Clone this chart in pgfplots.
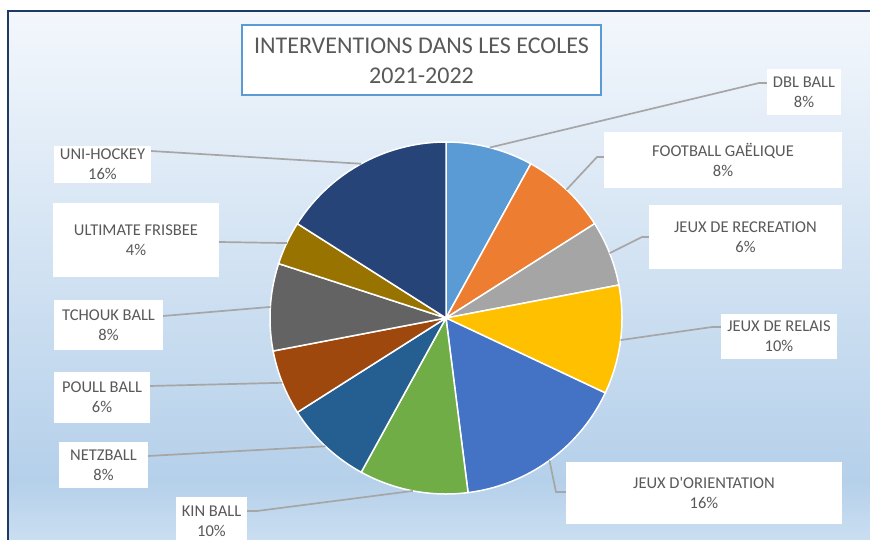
\documentclass[border=0pt]{standalone}
\usepackage{pgfplots}
\pgfplotsset{compat=1.18}
\usepgfplotslibrary{polar}
\usepackage{fontspec}
\setmainfont{Carlito}
\definecolor{cA}{HTML}{5B9BD5}
\definecolor{cB}{HTML}{ED7D31}
\definecolor{cC}{HTML}{A5A5A5}
\definecolor{cD}{HTML}{FFC000}
\definecolor{cE}{HTML}{4472C4}
\definecolor{cF}{HTML}{70AD47}
\definecolor{cG}{HTML}{255E91}
\definecolor{cH}{HTML}{9E480E}
\definecolor{cI}{HTML}{636363}
\definecolor{cJ}{HTML}{997300}
\definecolor{cK}{HTML}{264478}
\definecolor{bgtop}{HTML}{F3F7FC}
\definecolor{bgmid}{HTML}{B5D0EA}
\definecolor{bgbot}{HTML}{CADEF1}
\definecolor{navy}{HTML}{1F3864}
\definecolor{labgray}{HTML}{595959}
\definecolor{leadgray}{HTML}{A6A6A6}
\definecolor{titleblue}{HTML}{5B9BD5}
% pie slice: value (percent), colour, index; angles from the running total
\gdef\cumtot{0}
\newcommand\pieslice[3]{%
  \pgfmathsetmacro\slA{90-3.6*(\cumtot+#1)}%
  \pgfmathsetmacro\slB{90-3.6*\cumtot}%
  \pgfmathsetmacro\slM{90-3.6*(\cumtot+#1/2)}%
  \pgfmathsetmacro\slN{\cumtot+#1}%
  \global\let\cumtot\slN
  \edef\sltmp{\noexpand\addplot[fill=#2, draw=white, line width=1.5bp, domain=\slA:\slB, samples=60] {1} -- (axis cs:0,0) -- cycle;}%
  \sltmp
  \edef\sltmp{\noexpand\coordinate (m#3) at (axis cs:\slM,1);}%
  \sltmp
}
\begin{document}
\begin{tikzpicture}
\begin{scope}[x=1bp,y=-1bp]
  \path[use as bounding box] (0,0) rectangle (870,540);
  \shade[top color=bgtop,bottom color=bgmid] (8,11) rectangle (870,480.5);
  \shade[top color=bgmid,bottom color=bgbot] (8,480) rectangle (870,540);
  \draw[navy,line width=1.5bp] (8,540) -- (8,11) -- (870,11);
\end{scope}
\begin{polaraxis}[at={(446bp,-318bp)}, anchor=center, hide axis,
  scale only axis, width=352bp, height=352bp,
  xmin=0, xmax=360, ymin=0, ymax=1, clip=false]
  \pieslice{8}{cA}{1}
  \pieslice{8}{cB}{2}
  \pieslice{6}{cC}{3}
  \pieslice{10}{cD}{4}
  \pieslice{16}{cE}{5}
  \pieslice{10}{cF}{6}
  \pieslice{8}{cG}{7}
  \pieslice{6}{cH}{8}
  \pieslice{8}{cI}{9}
  \pieslice{4}{cJ}{10}
  \pieslice{16}{cK}{11}
\end{polaraxis}
\begin{scope}[x=1bp,y=-1bp]
  \tikzset{leader/.style={leadgray,line width=1.7bp},
    lab/.style={align=center,text=labgray,font=\fontsize{16.5bp}{20bp}\selectfont}}
  % leader lines
  \draw[leader] (m1) -- (759,83) -- (767,83);
  \draw[leader] (m2) -- (597,157) -- (604,157);
  \draw[leader] (m3) -- (642,237) -- (649,237);
  \draw[leader] (m4) -- (712,327) -- (721,327);
  \draw[leader] (m5) -- (556,492) -- (566,492);
  \draw[leader] (m6) -- (257,511) -- (247,511);
  \draw[leader] (m7) -- (148,456);
  \draw[leader] (m8) -- (150,386);
  \draw[leader] (m9) -- (163,316);
  \draw[leader] (m10) -- (219,242);
  \draw[leader] (m11) -- (151,151);
  % label boxes
  \fill[white] (767,69) rectangle (841,115); \node[lab] at (804,92) {DBL BALL\\8\%};
  \fill[white] (604,132) rectangle (842,188); \node[lab] at (723,160) {FOOTBALL GAËLIQUE\\8\%};
  \fill[white] (649,205) rectangle (842,269); \node[lab] at (745.5,237) {JEUX DE RECREATION\\6\%};
  \fill[white] (721,314) rectangle (837,359); \node[lab] at (779,336.5) {JEUX DE RELAIS\\10\%};
  \fill[white] (566,462) rectangle (842,524); \node[lab] at (704,493) {JEUX D\textquotesingle ORIENTATION\\16\%};
  \fill[white] (176,497) rectangle (247,540); \node[lab] at (211.5,521) {KIN BALL\\10\%};
  \fill[white] (59,442) rectangle (148,488); \node[lab] at (103.5,465) {NETZBALL\\8\%};
  \fill[white] (54,372) rectangle (150,423); \node[lab] at (102,397.5) {POULL BALL\\6\%};
  \fill[white] (54,300) rectangle (163,350); \node[lab] at (108.5,325) {TCHOUK BALL\\8\%};
  \fill[white] (53,203) rectangle (219,277); \node[lab] at (136,240) {ULTIMATE FRISBEE\\4\%};
  \fill[white] (54,146) rectangle (151,183); \node[lab] at (102.5,164.5) {UNI-HOCKEY\\16\%};
  % title
  \draw[titleblue,fill=white,line width=2.5bp] (242,25) rectangle (601,95);
  \node[align=center,text=labgray,font=\fontsize{24bp}{30bp}\selectfont] at (421.5,61) {INTERVENTIONS DANS LES ECOLES\\2021-2022};
\end{scope}
\end{tikzpicture}
\end{document}
